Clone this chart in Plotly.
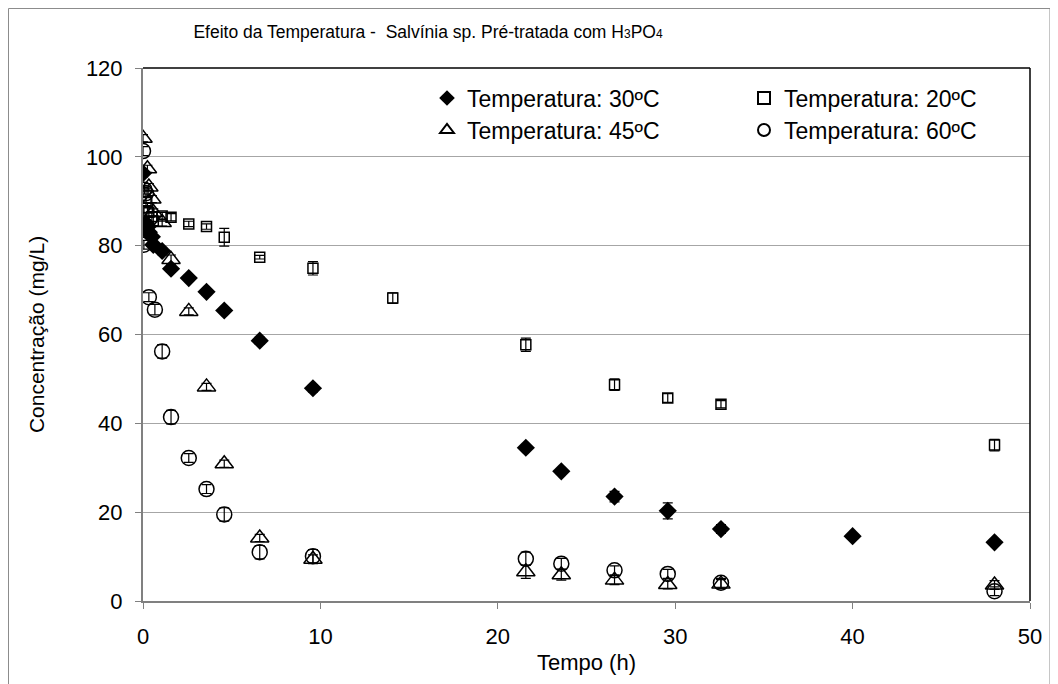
import plotly.graph_objects as go

# ---- data ----
t30 = [0, 0.17, 0.25, 0.33, 0.5, 0.58, 1.08, 1.58, 2.58, 3.58, 4.58, 6.58, 9.58,
       21.58, 23.58, 26.58, 29.58, 32.58, 40, 48]
c30 = [96.3, 85.0, 84.2, 83.0, 82.0, 80.2, 78.8, 74.8, 72.7, 69.6, 65.4, 58.6, 47.9,
       34.5, 29.2, 23.5, 20.3, 16.2, 14.6, 13.2]
e30 = [0.8, 0.8, 0.8, 0.8, 0.8, 0.8, 0.8, 0.8, 0.6, 0.6, 0.6, 0.8, 0.8,
       0.6, 0.5, 1.2, 1.8, 1.0, 0.6, 0.6]

t20 = [0, 0.17, 0.25, 0.33, 0.5, 0.58, 1.08, 1.58, 2.58, 3.58, 4.58, 6.58, 9.58,
       14.08, 21.58, 26.58, 29.58, 32.58, 48]
c20 = [92.0, 90.0, 88.5, 87.5, 86.5, 85.5, 86.7, 86.4, 84.9, 84.3, 81.9, 77.4, 74.9,
       68.2, 57.7, 48.7, 45.7, 44.3, 35.1]
e20 = [1.0, 1.0, 1.0, 1.0, 1.0, 1.0, 0.8, 0.8, 0.6, 0.6, 2.0, 0.4, 1.5,
       1.2, 1.5, 1.3, 1.0, 0.8, 1.3]

t45 = [0, 0.25, 0.33, 0.5, 0.58, 1.08, 1.58, 2.58, 3.58, 4.58, 6.58, 9.58,
       21.58, 23.58, 26.58, 29.58, 32.58, 48]
c45 = [104.2, 97.3, 93.2, 90.5, 87.5, 85.2, 76.9, 65.2, 48.2, 30.9, 14.2, 9.4,
       6.6, 5.9, 4.7, 3.7, 3.8, 3.6]
e45 = [0.8, 0.8, 0.8, 0.8, 0.8, 0.8, 1.0, 0.8, 0.8, 0.8, 0.8, 1.0,
       1.5, 1.2, 1.0, 1.0, 1.0, 1.0]

t60 = [0, 0.08, 0.17, 0.05, 0.33, 0.67, 1.08, 1.58, 2.58, 3.58, 4.58, 6.58, 9.58,
       21.58, 23.58, 26.58, 29.58, 32.58, 48]
c60 = [101.3, 92.6, 91.8, 80.2, 68.4, 65.6, 56.2, 41.4, 32.2, 25.2, 19.5, 11.0, 10.1,
       9.5, 8.4, 6.9, 6.1, 4.1, 2.2]
e60 = [1.0, 1.0, 1.0, 1.0, 1.0, 1.2, 1.5, 1.5, 1.0, 1.0, 1.5, 1.5, 1.5,
       1.5, 1.2, 1.0, 1.0, 1.0, 1.0]

names = ["Temperatura: 30ºC", "Temperatura: 20ºC", "Temperatura: 45ºC", "Temperatura: 60ºC"]
x_ticks = [0, 10, 20, 30, 40, 50]
y_ticks = [0, 20, 40, 60, 80, 100, 120]

FONT = "Liberation Sans, Arial, sans-serif"

def err(arr):
    return dict(type="data", array=arr, visible=True, color="black",
                thickness=1.2, width=5)

fig = go.Figure()
fig.add_trace(go.Scatter(x=t30, y=c30, mode="markers", name=names[0], legend="legend",
                         legendwidth=272,
                         marker=dict(symbol="diamond", size=14, color="black",
                                     line=dict(width=0)),
                         error_y=err(e30)))
fig.add_trace(go.Scatter(x=t20, y=c20, mode="markers", name=names[1], legend="legend",
                         legendwidth=190,
                         marker=dict(symbol="square-open", size=10, color="black",
                                     line=dict(width=1.5, color="black")),
                         error_y=err(e20)))
fig.add_trace(go.Scatter(x=t45, y=c45, mode="markers", name=names[2], legend="legend2",
                         legendwidth=272,
                         marker=dict(symbol="triangle-up-open", size=16, color="black",
                                     line=dict(width=1.5, color="black")),
                         error_y=err(e45)))
fig.add_trace(go.Scatter(x=t60, y=c60, mode="markers", name=names[3], legend="legend2",
                         legendwidth=190,
                         marker=dict(symbol="circle-open", size=15, color="black",
                                     line=dict(width=1.5, color="black")),
                         error_y=err(e60)))

# the page body adds an 8 px margin, so the figure is laid out in page px minus 8
OFF = 8
W, H = 1058 - OFF, 684 - OFF
L, R, T, B = 143 - OFF, 1030 - OFF, 68 - OFF, 601 - OFF
pw, ph = R - L, B - T

def px(xp):  # page x -> paper x
    return (xp - OFF - L) / pw

def py(yp):  # page y -> paper y
    return (B - (yp - OFF)) / ph

legend_common = dict(orientation="h", xanchor="left", yanchor="middle",
                     bgcolor="rgba(0,0,0,0)", borderwidth=0,
                     font=dict(family=FONT, size=23, color="black"),
                     itemsizing="constant", entrywidthmode="pixels",
                     traceorder="normal")

fig.update_layout(
    width=W, height=H,
    margin=dict(l=L, r=W - R, t=T, b=H - B, autoexpand=False),
    paper_bgcolor="white", plot_bgcolor="white",
    showlegend=True,
    legend=dict(x=px(427), y=py(98), **legend_common),
    legend2=dict(x=px(427), y=py(130), **legend_common),
    title=dict(text="Efeito da Temperatura -  Salvínia sp. Pré-tratada com H<span style='font-size:12px'>3</span>PO<span style='font-size:12px'>4</span>",
               x=(428 - OFF) / W, xanchor="center", xref="container",
               y=1 - (32 - OFF) / H, yanchor="middle", yref="container",
               font=dict(family=FONT, size=17.5, color="black")),
    font=dict(family=FONT, color="black"),
)

fig.update_xaxes(range=[0, 50], tickvals=x_ticks, showgrid=False, zeroline=False,
                 automargin=False,
                 showline=True, linecolor="#808080", linewidth=2,
                 ticks="outside", ticklen=6, tickcolor="#808080", tickwidth=1,
                 ticklabelstandoff=9,
                 tickfont=dict(family=FONT, size=22, color="black"),
                 title=dict(text="Tempo (h)", standoff=6,
                            font=dict(family=FONT, size=22, color="black")))
fig.update_yaxes(range=[0, 120], tickvals=y_ticks, showgrid=True, gridcolor="#a6a6a6",
                 gridwidth=1.2, zeroline=False, automargin=False,
                 showline=True, linecolor="#808080", linewidth=2,
                 ticks="outside", ticklen=6, tickcolor="#808080", tickwidth=1,
                 ticklabelstandoff=8,
                 tickfont=dict(family=FONT, size=22, color="black"),
                 title=dict(text="Concentração (mg/L)", standoff=36,
                            font=dict(family=FONT, size=21, color="black")))

# plot-area top/right border (black) and outer chart frame (grey)
fig.add_shape(type="line", xref="paper", yref="paper", x0=0, x1=1, y0=1, y1=1,
              line=dict(color="black", width=1.5))
fig.add_shape(type="line", xref="paper", yref="paper", x0=1, x1=1, y0=0, y1=1,
              line=dict(color="black", width=1.5))
fig.add_shape(type="rect", xref="paper", yref="paper",
              x0=px(8.5), x1=px(1050), y0=py(700), y1=py(8.5),
              line=dict(color="#8c8c8c", width=1), fillcolor="rgba(0,0,0,0)", layer="below")

fig.write_html("out.html")
